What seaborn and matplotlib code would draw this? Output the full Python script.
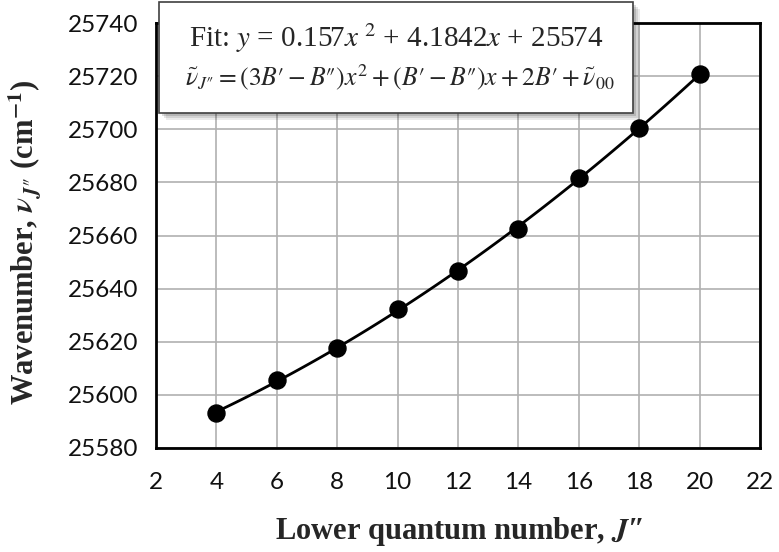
import numpy as np
import pandas as pd
import seaborn as sns
import matplotlib
matplotlib.use("Agg")
import matplotlib.pyplot as plt
from matplotlib.patches import Rectangle

J_lower = [4, 6, 8, 10, 12, 14, 16, 18, 20]
wavenumber = [25593.3, 25605.5, 25617.5, 25632.4, 25646.8, 25662.6, 25681.7, 25700.3, 25720.7]
x_ticks = [2, 4, 6, 8, 10, 12, 14, 16, 18, 20, 22]
y_ticks = [25580, 25600, 25620, 25640, 25660, 25680, 25700, 25720, 25740]
fit_text = r"Fit: $y$ = 0.157$x^{\ 2}$ + 4.1842$x$ + 25574"
eq_text = ("$\\tilde{\\nu}_{J\u2033} = \\left(3B\u2032 - B\u2033\\right)x^{2}"
           " + \\left(B\u2032 - B\u2033\\right)x + 2B\u2032 + \\tilde{\\nu}_{00}$")

df = pd.DataFrame({"J": J_lower, "nu": wavenumber})

sns.set_style("white")
plt.rcParams["mathtext.fontset"] = "stix"
plt.rcParams["font.family"] = ["Lato", "DejaVu Sans"]

fig = plt.figure(figsize=(7.79, 5.52), dpi=100)
W, H = 779, 552
ax = fig.add_axes([156/W, 1-448/H, (760-156)/W, (448-23)/H])

sns.regplot(data=df, x="J", y="nu", order=2, ci=None, truncate=True, ax=ax,
            scatter_kws=dict(s=150, color="black", edgecolor="black", alpha=1, zorder=4),
            line_kws=dict(color="black", lw=2.0, zorder=3))

ax.set_xlim(2, 22)
ax.set_ylim(25580, 25740)
ax.set_xticks(x_ticks)
ax.set_yticks(y_ticks)
ax.set_xticklabels([str(v) for v in x_ticks])
ax.set_yticklabels([str(v) for v in y_ticks])
ax.grid(True, color="#b0b0b0", lw=1.2)
ax.set_axisbelow(True)
for s in ax.spines.values():
    s.set_color("black")
    s.set_linewidth(2)
    s.set_visible(True)
ax.tick_params(axis="both", direction="out", length=8, width=2, color="black",
               labelsize=17.5, labelcolor="#111111", pad=5)
ax.tick_params(axis="x", pad=9)
ax.set_xlabel("")
ax.set_ylabel("")

fig.text(459/W, 1 - 531/H, "Lower quantum number, $\\mathbfit{J}$\u2033", ha="center", va="center",
         fontsize=22, fontweight="bold", family="Liberation Serif")
fig.text(25/W, 1 - 242/H, "Wavenumber, $\\mathbfit{\\nu}_{\\mathbfit{J}\u2033}$ (cm$^{\\mathbf{-1}}$)",
         ha="center", va="center", rotation=90,
         fontsize=22, fontweight="bold", family="Liberation Serif")

# text box with shadow
bx0, by0, bx1, by1 = 159, 2, 633, 113
for i, a in enumerate([0.08, 0.10, 0.14]):
    off = 7 - 2*i
    fig.patches.append(Rectangle(((bx0 + off)/W, 1 - (by1 + off)/H), (bx1 - bx0)/W, (by1 - by0)/H,
                                 transform=fig.transFigure, facecolor="black", alpha=a,
                                 edgecolor="none", zorder=5))
fig.patches.append(Rectangle((bx0/W, 1 - by1/H), (bx1 - bx0)/W, (by1 - by0)/H,
                             transform=fig.transFigure, facecolor="white",
                             edgecolor="#404040", lw=1.2, zorder=6))
fig.text((bx0 + bx1)/2/W, 1 - 38/H, fit_text, ha="center", va="center", fontsize=21,
         family="Liberation Serif", zorder=7)
fig.text((bx0 + bx1)/2/W + 4/W, 1 - 77/H, eq_text, ha="center", va="center", fontsize=18.5,
         family="Liberation Serif", zorder=7)

fig.savefig("out.png", dpi=100)
